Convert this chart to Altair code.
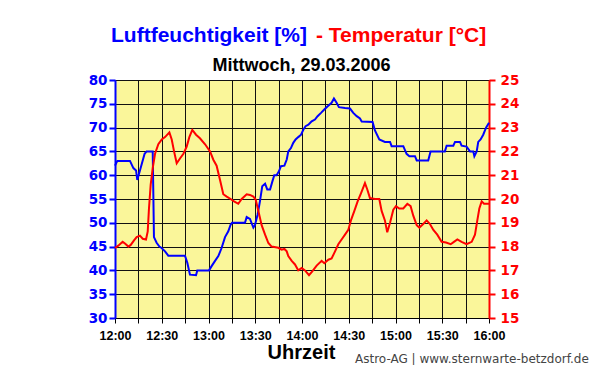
import altair as alt
import pandas as pd

# minutes after 12:00
hum_t = [0.0, 1.5, 9.6, 11.8, 13.5, 14.3, 16.0, 17.3, 19.0, 20.3, 23.3, 24.2, 25.0, 26.7, 28.5, 29.9,
         32.1, 34.2, 44.9, 46.4, 48.1, 52.0, 52.8, 60.3, 62.0, 64.2, 66.3, 68.4, 70.6, 72.7, 74.2, 75.1,
         83.4, 84.5, 86.6, 88.8, 89.8, 91.5, 93.0, 94.5, 96.3, 97.7, 99.5, 101.0, 102.2, 103.7, 105.2,
         106.5, 108.7, 110.2, 111.2, 112.9, 114.4, 115.9, 117.6, 119.4, 120.9, 122.3, 124.1, 126.2,
         128.3, 130.0, 132.2, 134.3, 136.5, 139.0, 140.5, 142.2, 143.7, 147.6, 150.8, 152.9, 155.1,
         157.2, 158.3, 165.3, 166.8, 169.6, 173.2, 176.5, 177.5, 185.0, 187.1, 188.9, 192.5, 193.6,
         201.0, 202.5, 211.7, 212.8, 217.1, 218.2, 221.4, 222.4, 225.6, 227.8, 229.9, 230.6, 232.1,
         233.1, 234.6, 236.3, 238.1, 240.0]
hum_v = [62, 63, 63, 61.5, 61, 59, 61, 62.5, 64.5, 65, 65, 65, 47, 45.8, 45, 44.7,
         44, 43.1, 43.1, 41.6, 39.1, 39, 40, 40, 40.9, 42, 43, 44.7, 47, 48.2, 49.6, 50,
         50, 51.2, 50.8, 49, 49.5, 51.7, 54.5, 57.7, 58.2, 57, 57, 58.7, 60, 60, 60.8,
         61.9, 62, 63.3, 65, 65.7, 66.8, 67.5, 68, 68.5, 69.6, 70.3, 70.6, 71.3,
         71.7, 72.4, 73.1, 73.8, 74.5, 75.2, 76.1, 75.2, 74.3, 74.1, 74, 73.1, 72.4,
         71.9, 71.3, 71.2, 69.4, 67.5, 67, 67, 66.1, 66.1, 64.5, 64, 64, 63.1,
         63.1, 65, 65, 66.2, 66.2, 67, 67, 66.2, 66, 65, 65, 64, 65,
         67, 67.5, 68.5, 70, 71]

temp_t = [0.0, 2.1, 4.9, 6.4, 8.6, 10.1, 12.2, 13.9, 16.0, 17.8, 19.9, 21.0, 21.8, 22.9, 24.2, 25.7,
          27.8, 30.0, 32.1, 34.9, 36.4, 37.9, 39.6, 41.7, 43.9, 46.0, 47.7, 49.6, 52.0, 54.5, 57.8,
          61.0, 63.1, 65.2, 67.4, 69.5, 71.7, 74.2, 76.4, 79.1, 81.3, 84.5, 86.6, 88.8, 90.3, 92.0,
          94.1, 96.3, 98.4, 100.5, 104.8, 106.9, 108.7, 110.2, 111.2, 113.4, 115.5, 117.6, 119.8,
          121.9, 124.5, 126.6, 129.4, 132.6, 134.3, 136.9, 139.0, 141.2, 143.3, 145.4, 147.6, 149.7,
          151.4, 153.6, 155.7, 157.9, 160.4, 161.9, 163.6, 166.8, 169.6, 171.1, 173.2, 174.7, 176.5,
          178.6, 180.3, 182.4, 185.0, 187.6, 189.7, 191.4, 193.6, 195.3, 197.8, 200.0, 202.1, 204.3,
          206.8, 209.6, 212.4, 215.4, 217.5, 219.7, 222.4, 225.6, 228.9, 231.0, 232.5, 233.8, 235.3,
          236.8, 240.0]
temp_v = [17.94, 18.04, 18.2, 18.13, 18.0, 18.07, 18.26, 18.4, 18.46, 18.33, 18.3, 18.64, 19.6, 20.6, 21.3, 21.9,
          22.3, 22.5, 22.6, 22.8, 22.5, 22.0, 21.5, 21.7, 21.9, 22.2, 22.6, 22.9, 22.7, 22.55, 22.3,
          22.0, 21.65, 21.4, 20.8, 20.2, 20.1, 20.0, 19.9, 19.8, 20.0, 20.2, 20.17, 20.1, 19.97, 19.5,
          18.9, 18.5, 18.15, 18.0, 17.95, 17.87, 17.9, 17.8, 17.6, 17.4, 17.25, 17.0, 17.1,
          17.0, 16.8, 16.96, 17.2, 17.4, 17.3, 17.45, 17.5, 17.8, 18.1, 18.3, 18.5, 18.7,
          19.1, 19.5, 19.9, 20.25, 20.67, 20.4, 20.04, 20.0, 20.0, 19.5, 19.1, 18.6, 19.0,
          19.55, 19.7, 19.6, 19.6, 19.8, 19.7, 19.3, 18.9, 18.8, 18.95, 19.1, 18.95, 18.7,
          18.5, 18.2, 18.17, 18.1, 18.2, 18.3, 18.2, 18.1, 18.2, 18.5, 19.1, 19.6, 19.9,
          19.8, 19.8]

x_ticks = list(range(0, 241, 15))
hum_ticks = list(range(30, 81, 5))
temp_ticks = list(range(15, 26, 1))

hum_df = pd.DataFrame({"t": hum_t, "v": hum_v})
temp_df = pd.DataFrame({"t": temp_t, "v": temp_v})

label_expr = ("datum.value % 30 == 0 ? (12 + floor(datum.value / 60)) + ':' + "
              "(datum.value % 60 == 0 ? '00' : '30') : ''")

x_enc = alt.X("t:Q", scale=alt.Scale(domain=[0, 240], nice=False, zero=False),
              axis=alt.Axis(values=x_ticks, labelExpr=label_expr, title=None,
                            grid=True, gridColor="#111111", gridWidth=1,
                            domainColor="#000000", domainWidth=1,
                            tickColor="#000000", tickSize=5, tickWidth=1,
                            labelFont="Liberation Sans", labelFontWeight="bold",
                            labelFontSize=12.5, labelColor="#000000", labelPadding=6,
                            labelFlush=False, labelOverlap=False, labelBound=False))

hum = alt.Chart(hum_df).mark_line(color="#0000FF", strokeWidth=2).encode(
    x=x_enc,
    y=alt.Y("v:Q", scale=alt.Scale(domain=[30, 80], nice=False, zero=False),
            axis=alt.Axis(orient="left", values=hum_ticks, title=None, grid=True,
                          gridColor="#111111", gridWidth=1,
                          domainColor="#0000FF", domainWidth=2,
                          tickColor="#0000FF", tickSize=6, tickWidth=2,
                          labelFont="DejaVu Sans", labelFontWeight="bold", labelFontSize=13.5,
                          labelColor="#0000FF", labelPadding=2)),
)

temp = alt.Chart(temp_df).mark_line(color="#FF0000", strokeWidth=2).encode(
    x=x_enc,
    y=alt.Y("v:Q", scale=alt.Scale(domain=[15, 25], nice=False, zero=False),
            axis=alt.Axis(orient="right", values=temp_ticks, title=None, grid=False,
                          domainColor="#FF0000", domainWidth=2,
                          tickColor="#FF0000", tickSize=6, tickWidth=2,
                          labelFont="DejaVu Sans", labelFontWeight="bold", labelFontSize=13.5,
                          labelColor="#FF0000", labelPadding=5)),
)

one = alt.Data(values=[{}])

def txt(text, x, y, size, color, weight="bold", align="left", font="Liberation Sans"):
    return alt.Chart(one).mark_text(
        text=text, align=align, baseline="alphabetic", font=font,
        fontSize=size, fontWeight=weight, color=color
    ).encode(x=alt.value(x), y=alt.value(y))

t1 = txt("Luftfeuchtigkeit [%]", -4, -38.5, 21, "#0000FF")
t2 = txt("- Temperatur [°C]", 201, -38.5, 21, "#FF0000")
t3 = txt("Mittwoch, 29.03.2006", 186.5, -9, 18, "#000000", align="center")
t4 = txt("Uhrzeit", 186.5, 279.3, 20, "#000000", align="center")
t5 = txt("Astro-AG | www.sternwarte-betzdorf.de", 240, 283.3, 12, "#444444",
         weight="normal", font="DejaVu Sans")

chart = alt.layer(hum, temp, t1, t2, t3, t4, t5).resolve_scale(y="independent").properties(
    width=374, height=238,
    autosize=alt.AutoSizeParams(type="none"),
    padding={"left": 107, "top": 72, "right": 103, "bottom": 47},
    background="#FFFFFF",
).configure_view(fill="#FAF69A", stroke="#BBBBBB", strokeWidth=1)

chart.save("out.html", embed_options={"renderer": "svg", "actions": False})
